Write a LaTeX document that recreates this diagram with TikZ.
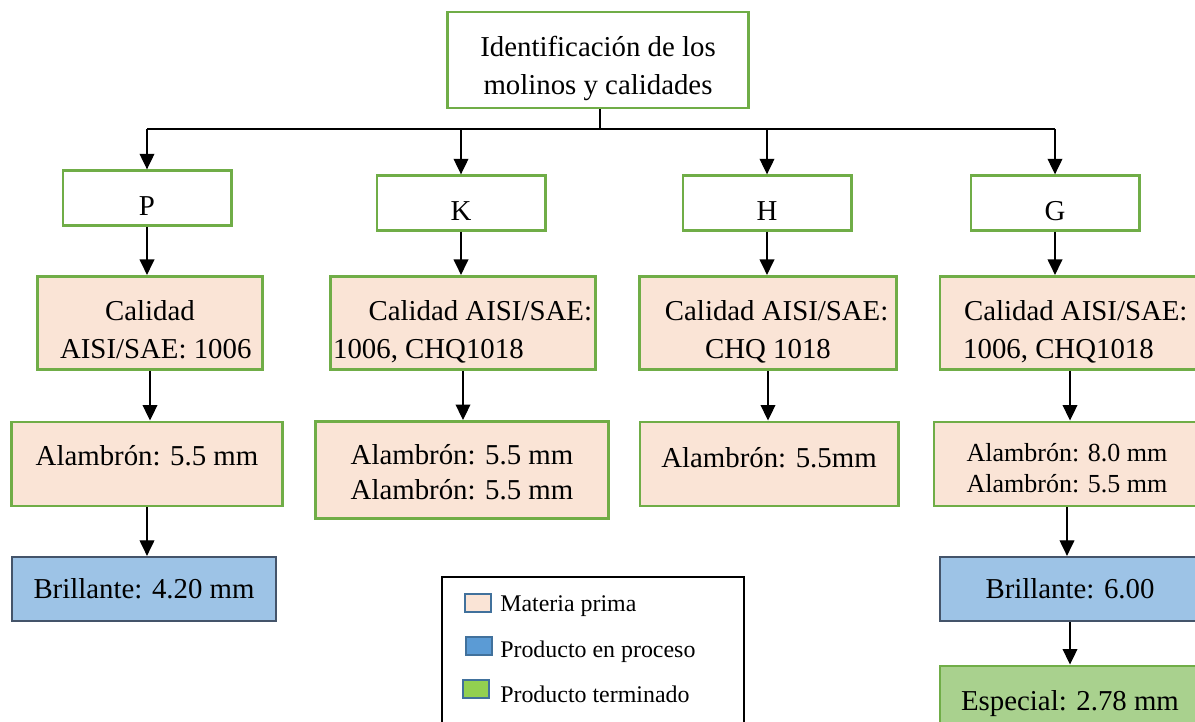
\documentclass[tikz,border=0pt]{standalone}
\usepackage{fontspec}
\setmainfont{Liberation Serif}
\usetikzlibrary{arrows.meta}

\definecolor{boxgreen}{RGB}{112,173,71}
\definecolor{rawfill}{RGB}{250,228,214}
\definecolor{procfill}{RGB}{157,195,230}
\definecolor{procdraw}{RGB}{68,84,106}
\definecolor{endfill}{RGB}{169,209,142}
\definecolor{keydraw}{RGB}{65,113,156}
\definecolor{keyblue}{RGB}{91,155,213}
\definecolor{keygreen}{RGB}{146,208,80}

% text of a box, raised or lowered by #1 without changing the box
\newcommand{\boxtext}[2]{\raisebox{#1}[\height][\depth]{\begin{tabular}{@{}c@{}}#2\end{tabular}}}

\begin{document}
\begin{tikzpicture}[x=0.025cm, y=-0.025cm]
\tikzstyle{box}=[rectangle, draw=boxgreen, line width=2.1pt, align=center, inner sep=2pt, font=\fontsize{20.5}{27}\selectfont]
\tikzstyle{mill box}=[box, fill=white, minimum width=4.2cm, minimum height=1.36cm]
\tikzstyle{raw box}=[box, fill=rawfill, minimum height=2.1cm]
\tikzstyle{proc box}=[box, draw=procdraw, line width=1.6pt, fill=procfill, minimum height=1.6cm]
\tikzstyle{end box}=[box, fill=endfill, minimum height=1.85cm]
\tikzstyle{key}=[rectangle, draw=keydraw, line width=1.5pt, minimum width=0.66cm, minimum height=0.44cm, inner sep=0pt]
\tikzstyle{key text}=[anchor=west, inner sep=0pt, font=\fontsize{17}{20}\selectfont]
\tikzstyle{arrow line}=[-{Triangle[width=10.5pt, length=11pt]}, line width=0.8pt]

\useasboundingbox (0,0) rectangle (1195,722);

% Top node
\node[box, minimum width=7.5cm, minimum height=2.4cm] (top) at (598,60) {\boxtext{-0.19cm}{Identificación de los\\molinos y calidades}};

% Mills
\node[mill box] (P) at (147,198) {\boxtext{-0.24cm}{P}};
\node[mill box] (K) at (461,203) {\boxtext{-0.24cm}{K}};
\node[mill box] (H) at (767,203) {\boxtext{-0.24cm}{H}};
\node[mill box] (G) at (1055,203) {\boxtext{-0.24cm}{G}};

% Qualities
\node[raw box, minimum width=5.6cm, minimum height=2.33cm] (PC) at (150,323) {\boxtext{-0.22cm}{Calidad\\\hspace*{0.4em}AISI/SAE: 1006}};
\node[raw box, minimum width=6.525cm, minimum height=2.33cm] (KC) at (463,323) {\boxtext{-0.22cm}{\hspace*{1.2em}Calidad AISI/SAE:\\1006, CHQ1018\hspace*{2.4em}}};
\node[raw box, minimum width=6.425cm, minimum height=2.33cm] (HC) at (768,323) {\boxtext{-0.22cm}{\hspace*{0.6em}Calidad AISI/SAE:\\CHQ 1018}};
\node[raw box, minimum width=6.5cm, minimum height=2.33cm] (GC) at (1070,323) {\boxtext{-0.22cm}{\hspace*{0.4em}Calidad AISI/SAE:\\1006, CHQ1018\hspace*{0.8em}}};

% Wire rod
\node[raw box, minimum width=6.75cm] (PA) at (147,464) {\boxtext{0.15cm}{Alambrón: 5.5 mm}};
\node[raw box, minimum width=7.325cm, minimum height=2.425cm, font=\fontsize{20.5}{25}\selectfont] (KA) at (462,470) {\boxtext{-0.12cm}{Alambrón: 5.5 mm\\Alambrón: 5.5 mm}};
\node[raw box, minimum width=6.45cm] (HA) at (769,464) {\boxtext{0.1cm}{Alambrón: 5.5mm}};
\node[raw box, minimum width=6.65cm, font=\fontsize{18.5}{22}\selectfont] (GA) at (1067,464) {\boxtext{-0.17cm}{Alambrón: 8.0 mm\\Alambrón: 5.5 mm}};

% Products
\node[proc box, minimum width=6.6cm] (PB) at (144,589) {\boxtext{-0.05cm}{Brillante: 4.20 mm}};
\node[proc box, minimum width=6.5cm] (GB) at (1070,589) {\boxtext{-0.05cm}{Brillante: 6.00}};
\node[end box, minimum width=6.5cm] (GE) at (1070,703) {\boxtext{0cm}{Especial: 2.78 mm}};

% Split from the top node
\coordinate (split) at (600,129);
\draw[line width=1.5pt] (top.south -| split) -- (split);
\draw[line width=1.5pt] (P |- split) -- (G |- split);
\foreach \m in {P,K,H,G}
    \draw[arrow line] (\m |- split) -- (\m);

% Arrows down each column
\foreach \a/\b in {P/PC, PC/PA, PA/PB, K/KC, KC/KA, H/HC, HC/HA, G/GC, GC/GA, GA/GB, GB/GE}
    \draw[arrow line] (\a) -- (\a |- \b.north);

% Legend
\node[rectangle, draw=black, line width=1.4pt, minimum width=7.55cm, minimum height=4.1cm] (legend) at (593,659) {};
\node[key, fill=rawfill] (k1) at (478,603) {};
\node[key, fill=keyblue] (k2) at (479,646) {};
\node[key, fill=keygreen] (k3) at (476,689) {};
\node[key text] (t1) at (500,606) {Materia prima};
\node[key text] (t2) at (500,652) {Producto en proceso};
\node[key text] (t3) at (500,694) {Producto terminado};
\end{tikzpicture}
\end{document}
